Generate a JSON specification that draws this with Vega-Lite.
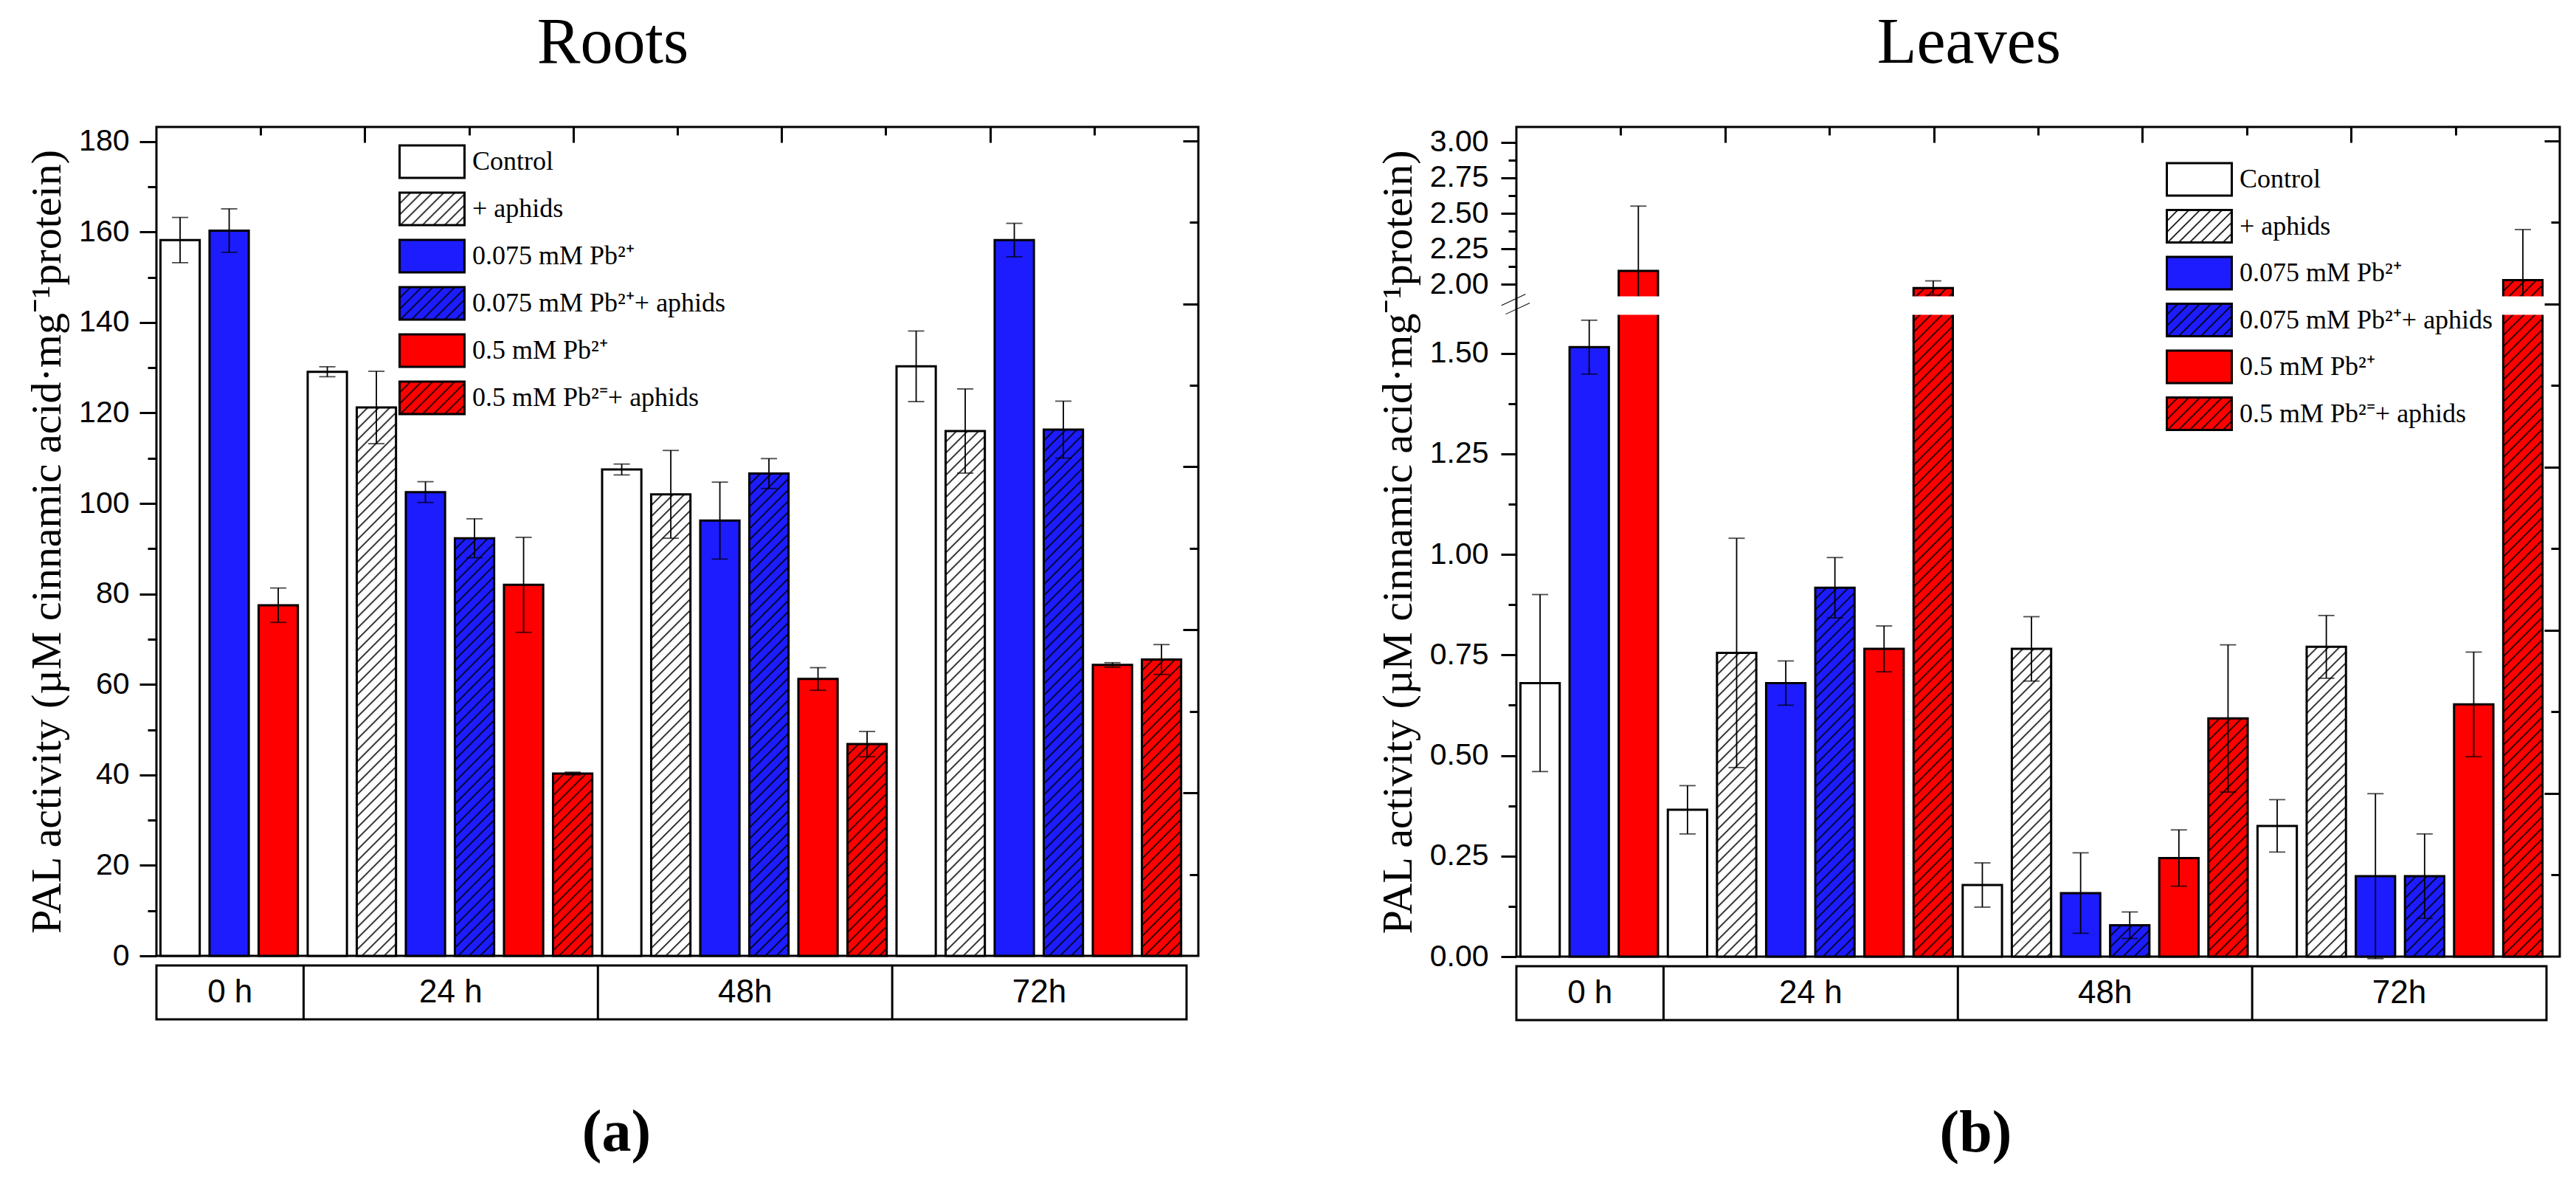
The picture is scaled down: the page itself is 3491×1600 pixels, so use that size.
{
  "$schema": "https://vega.github.io/schema/vega-lite/v6.json",
  "background": "white",
  "padding": {"left": 34, "top": 15, "right": 0, "bottom": 0},
  "params": [
    {"name": "hatch", "value": [
      {"offset":0,"color":"#000"},{"offset":0.0015,"color":"#0000"},{"offset":0.0085,"color":"#0000"},
      {"offset":0.01,"color":"#000"},{"offset":0.0115,"color":"#0000"},{"offset":0.0185,"color":"#0000"},
      {"offset":0.02,"color":"#000"},{"offset":0.0215,"color":"#0000"},{"offset":0.0285,"color":"#0000"},
      {"offset":0.03,"color":"#000"},{"offset":0.0315,"color":"#0000"},{"offset":0.0385,"color":"#0000"},
      {"offset":0.04,"color":"#000"},{"offset":0.0415,"color":"#0000"},{"offset":0.0485,"color":"#0000"},
      {"offset":0.05,"color":"#000"},{"offset":0.0515,"color":"#0000"},{"offset":0.0585,"color":"#0000"},
      {"offset":0.06,"color":"#000"},{"offset":0.0615,"color":"#0000"},{"offset":0.0685,"color":"#0000"},
      {"offset":0.07,"color":"#000"},{"offset":0.0715,"color":"#0000"},{"offset":0.0785,"color":"#0000"},
      {"offset":0.08,"color":"#000"},{"offset":0.0815,"color":"#0000"},{"offset":0.0885,"color":"#0000"},
      {"offset":0.09,"color":"#000"},{"offset":0.0915,"color":"#0000"},{"offset":0.0985,"color":"#0000"},
      {"offset":0.1,"color":"#000"},{"offset":0.1015,"color":"#0000"},{"offset":0.1085,"color":"#0000"},
      {"offset":0.11,"color":"#000"},{"offset":0.1115,"color":"#0000"},{"offset":0.1185,"color":"#0000"},
      {"offset":0.12,"color":"#000"},{"offset":0.1215,"color":"#0000"},{"offset":0.1285,"color":"#0000"},
      {"offset":0.13,"color":"#000"},{"offset":0.1315,"color":"#0000"},{"offset":0.1385,"color":"#0000"},
      {"offset":0.14,"color":"#000"},{"offset":0.1415,"color":"#0000"},{"offset":0.1485,"color":"#0000"},
      {"offset":0.15,"color":"#000"},{"offset":0.1515,"color":"#0000"},{"offset":0.1585,"color":"#0000"},
      {"offset":0.16,"color":"#000"},{"offset":0.1615,"color":"#0000"},{"offset":0.1685,"color":"#0000"},
      {"offset":0.17,"color":"#000"},{"offset":0.1715,"color":"#0000"},{"offset":0.1785,"color":"#0000"},
      {"offset":0.18,"color":"#000"},{"offset":0.1815,"color":"#0000"},{"offset":0.1885,"color":"#0000"},
      {"offset":0.19,"color":"#000"},{"offset":0.1915,"color":"#0000"},{"offset":0.1985,"color":"#0000"},
      {"offset":0.2,"color":"#000"},{"offset":0.2015,"color":"#0000"},{"offset":0.2085,"color":"#0000"},
      {"offset":0.21,"color":"#000"},{"offset":0.2115,"color":"#0000"},{"offset":0.2185,"color":"#0000"},
      {"offset":0.22,"color":"#000"},{"offset":0.2215,"color":"#0000"},{"offset":0.2285,"color":"#0000"},
      {"offset":0.23,"color":"#000"},{"offset":0.2315,"color":"#0000"},{"offset":0.2385,"color":"#0000"},
      {"offset":0.24,"color":"#000"},{"offset":0.2415,"color":"#0000"},{"offset":0.2485,"color":"#0000"},
      {"offset":0.25,"color":"#000"},{"offset":0.2515,"color":"#0000"},{"offset":0.2585,"color":"#0000"},
      {"offset":0.26,"color":"#000"},{"offset":0.2615,"color":"#0000"},{"offset":0.2685,"color":"#0000"},
      {"offset":0.27,"color":"#000"},{"offset":0.2715,"color":"#0000"},{"offset":0.2785,"color":"#0000"},
      {"offset":0.28,"color":"#000"},{"offset":0.2815,"color":"#0000"},{"offset":0.2885,"color":"#0000"},
      {"offset":0.29,"color":"#000"},{"offset":0.2915,"color":"#0000"},{"offset":0.2985,"color":"#0000"},
      {"offset":0.3,"color":"#000"},{"offset":0.3015,"color":"#0000"},{"offset":0.3085,"color":"#0000"},
      {"offset":0.31,"color":"#000"},{"offset":0.3115,"color":"#0000"},{"offset":0.3185,"color":"#0000"},
      {"offset":0.32,"color":"#000"},{"offset":0.3215,"color":"#0000"},{"offset":0.3285,"color":"#0000"},
      {"offset":0.33,"color":"#000"},{"offset":0.3315,"color":"#0000"},{"offset":0.3385,"color":"#0000"},
      {"offset":0.34,"color":"#000"},{"offset":0.3415,"color":"#0000"},{"offset":0.3485,"color":"#0000"},
      {"offset":0.35,"color":"#000"},{"offset":0.3515,"color":"#0000"},{"offset":0.3585,"color":"#0000"},
      {"offset":0.36,"color":"#000"},{"offset":0.3615,"color":"#0000"},{"offset":0.3685,"color":"#0000"},
      {"offset":0.37,"color":"#000"},{"offset":0.3715,"color":"#0000"},{"offset":0.3785,"color":"#0000"},
      {"offset":0.38,"color":"#000"},{"offset":0.3815,"color":"#0000"},{"offset":0.3885,"color":"#0000"},
      {"offset":0.39,"color":"#000"},{"offset":0.3915,"color":"#0000"},{"offset":0.3985,"color":"#0000"},
      {"offset":0.4,"color":"#000"},{"offset":0.4015,"color":"#0000"},{"offset":0.4085,"color":"#0000"},
      {"offset":0.41,"color":"#000"},{"offset":0.4115,"color":"#0000"},{"offset":0.4185,"color":"#0000"},
      {"offset":0.42,"color":"#000"},{"offset":0.4215,"color":"#0000"},{"offset":0.4285,"color":"#0000"},
      {"offset":0.43,"color":"#000"},{"offset":0.4315,"color":"#0000"},{"offset":0.4385,"color":"#0000"},
      {"offset":0.44,"color":"#000"},{"offset":0.4415,"color":"#0000"},{"offset":0.4485,"color":"#0000"},
      {"offset":0.45,"color":"#000"},{"offset":0.4515,"color":"#0000"},{"offset":0.4585,"color":"#0000"},
      {"offset":0.46,"color":"#000"},{"offset":0.4615,"color":"#0000"},{"offset":0.4685,"color":"#0000"},
      {"offset":0.47,"color":"#000"},{"offset":0.4715,"color":"#0000"},{"offset":0.4785,"color":"#0000"},
      {"offset":0.48,"color":"#000"},{"offset":0.4815,"color":"#0000"},{"offset":0.4885,"color":"#0000"},
      {"offset":0.49,"color":"#000"},{"offset":0.4915,"color":"#0000"},{"offset":0.4985,"color":"#0000"},
      {"offset":0.5,"color":"#000"},{"offset":0.5015,"color":"#0000"},{"offset":0.5085,"color":"#0000"},
      {"offset":0.51,"color":"#000"},{"offset":0.5115,"color":"#0000"},{"offset":0.5185,"color":"#0000"},
      {"offset":0.52,"color":"#000"},{"offset":0.5215,"color":"#0000"},{"offset":0.5285,"color":"#0000"},
      {"offset":0.53,"color":"#000"},{"offset":0.5315,"color":"#0000"},{"offset":0.5385,"color":"#0000"},
      {"offset":0.54,"color":"#000"},{"offset":0.5415,"color":"#0000"},{"offset":0.5485,"color":"#0000"},
      {"offset":0.55,"color":"#000"},{"offset":0.5515,"color":"#0000"},{"offset":0.5585,"color":"#0000"},
      {"offset":0.56,"color":"#000"},{"offset":0.5615,"color":"#0000"},{"offset":0.5685,"color":"#0000"},
      {"offset":0.57,"color":"#000"},{"offset":0.5715,"color":"#0000"},{"offset":0.5785,"color":"#0000"},
      {"offset":0.58,"color":"#000"},{"offset":0.5815,"color":"#0000"},{"offset":0.5885,"color":"#0000"},
      {"offset":0.59,"color":"#000"},{"offset":0.5915,"color":"#0000"},{"offset":0.5985,"color":"#0000"},
      {"offset":0.6,"color":"#000"},{"offset":0.6015,"color":"#0000"},{"offset":0.6085,"color":"#0000"},
      {"offset":0.61,"color":"#000"},{"offset":0.6115,"color":"#0000"},{"offset":0.6185,"color":"#0000"},
      {"offset":0.62,"color":"#000"},{"offset":0.6215,"color":"#0000"},{"offset":0.6285,"color":"#0000"},
      {"offset":0.63,"color":"#000"},{"offset":0.6315,"color":"#0000"},{"offset":0.6385,"color":"#0000"},
      {"offset":0.64,"color":"#000"},{"offset":0.6415,"color":"#0000"},{"offset":0.6485,"color":"#0000"},
      {"offset":0.65,"color":"#000"},{"offset":0.6515,"color":"#0000"},{"offset":0.6585,"color":"#0000"},
      {"offset":0.66,"color":"#000"},{"offset":0.6615,"color":"#0000"},{"offset":0.6685,"color":"#0000"}
    ]},
    {"name": "hatchW", "value": [
      {"offset":0,"color":"#000"},{"offset":0.015,"color":"#fff"},{"offset":0.085,"color":"#fff"},
      {"offset":0.1,"color":"#000"},{"offset":0.115,"color":"#fff"},{"offset":0.185,"color":"#fff"},
      {"offset":0.2,"color":"#000"},{"offset":0.215,"color":"#fff"},{"offset":0.285,"color":"#fff"},
      {"offset":0.3,"color":"#000"},{"offset":0.315,"color":"#fff"},{"offset":0.385,"color":"#fff"},
      {"offset":0.4,"color":"#000"},{"offset":0.415,"color":"#fff"},{"offset":0.485,"color":"#fff"},
      {"offset":0.5,"color":"#000"},{"offset":0.515,"color":"#fff"},{"offset":0.585,"color":"#fff"},
      {"offset":0.6,"color":"#000"},{"offset":0.615,"color":"#fff"},{"offset":0.685,"color":"#fff"},
      {"offset":0.7,"color":"#000"},{"offset":0.715,"color":"#fff"},{"offset":0.785,"color":"#fff"},
      {"offset":0.8,"color":"#000"},{"offset":0.815,"color":"#fff"},{"offset":0.885,"color":"#fff"},
      {"offset":0.9,"color":"#000"},{"offset":0.915,"color":"#fff"},{"offset":0.985,"color":"#fff"},
      {"offset":1,"color":"#000"}
    ]},
    {"name": "hatchB", "value": [
      {"offset":0,"color":"#000"},{"offset":0.015,"color":"#1c1cff"},{"offset":0.085,"color":"#1c1cff"},
      {"offset":0.1,"color":"#000"},{"offset":0.115,"color":"#1c1cff"},{"offset":0.185,"color":"#1c1cff"},
      {"offset":0.2,"color":"#000"},{"offset":0.215,"color":"#1c1cff"},{"offset":0.285,"color":"#1c1cff"},
      {"offset":0.3,"color":"#000"},{"offset":0.315,"color":"#1c1cff"},{"offset":0.385,"color":"#1c1cff"},
      {"offset":0.4,"color":"#000"},{"offset":0.415,"color":"#1c1cff"},{"offset":0.485,"color":"#1c1cff"},
      {"offset":0.5,"color":"#000"},{"offset":0.515,"color":"#1c1cff"},{"offset":0.585,"color":"#1c1cff"},
      {"offset":0.6,"color":"#000"},{"offset":0.615,"color":"#1c1cff"},{"offset":0.685,"color":"#1c1cff"},
      {"offset":0.7,"color":"#000"},{"offset":0.715,"color":"#1c1cff"},{"offset":0.785,"color":"#1c1cff"},
      {"offset":0.8,"color":"#000"},{"offset":0.815,"color":"#1c1cff"},{"offset":0.885,"color":"#1c1cff"},
      {"offset":0.9,"color":"#000"},{"offset":0.915,"color":"#1c1cff"},{"offset":0.985,"color":"#1c1cff"},
      {"offset":1,"color":"#000"}
    ]},
    {"name": "hatchR", "value": [
      {"offset":0,"color":"#000"},{"offset":0.015,"color":"#ff0000"},{"offset":0.085,"color":"#ff0000"},
      {"offset":0.1,"color":"#000"},{"offset":0.115,"color":"#ff0000"},{"offset":0.185,"color":"#ff0000"},
      {"offset":0.2,"color":"#000"},{"offset":0.215,"color":"#ff0000"},{"offset":0.285,"color":"#ff0000"},
      {"offset":0.3,"color":"#000"},{"offset":0.315,"color":"#ff0000"},{"offset":0.385,"color":"#ff0000"},
      {"offset":0.4,"color":"#000"},{"offset":0.415,"color":"#ff0000"},{"offset":0.485,"color":"#ff0000"},
      {"offset":0.5,"color":"#000"},{"offset":0.515,"color":"#ff0000"},{"offset":0.585,"color":"#ff0000"},
      {"offset":0.6,"color":"#000"},{"offset":0.615,"color":"#ff0000"},{"offset":0.685,"color":"#ff0000"},
      {"offset":0.7,"color":"#000"},{"offset":0.715,"color":"#ff0000"},{"offset":0.785,"color":"#ff0000"},
      {"offset":0.8,"color":"#000"},{"offset":0.815,"color":"#ff0000"},{"offset":0.885,"color":"#ff0000"},
      {"offset":0.9,"color":"#000"},{"offset":0.915,"color":"#ff0000"},{"offset":0.985,"color":"#ff0000"},
      {"offset":1,"color":"#000"}
    ]}
  ],
  "datasets": {
    "roots": [
      {"time": "0 h", "trt": "Control", "bar": "0 h Control", "v": 158.2, "e": 5.0},
      {"time": "0 h", "trt": "0.075 mM Pb²⁺", "bar": "0 h 0.075 mM Pb²⁺", "v": 160.3, "e": 4.8},
      {"time": "0 h", "trt": "0.5 mM Pb²⁺", "bar": "0 h 0.5 mM Pb²⁺", "v": 77.5, "e": 3.8},
      {"time": "24 h", "trt": "Control", "bar": "24 h Control", "v": 129.1, "e": 1.1},
      {"time": "24 h", "trt": "+ aphids", "bar": "24 h + aphids", "v": 121.2, "e": 8.0},
      {"time": "24 h", "trt": "0.075 mM Pb²⁺", "bar": "24 h 0.075 mM Pb²⁺", "v": 102.5, "e": 2.3},
      {"time": "24 h", "trt": "0.075 mM Pb²⁺+ aphids", "bar": "24 h 0.075 mM Pb²⁺+ aphids", "v": 92.3, "e": 4.3},
      {"time": "24 h", "trt": "0.5 mM Pb²⁺", "bar": "24 h 0.5 mM Pb²⁺", "v": 82.0, "e": 10.5},
      {"time": "24 h", "trt": "0.5 mM Pb²⁼+ aphids", "bar": "24 h 0.5 mM Pb²⁼+ aphids", "v": 40.3, "e": 0.3},
      {"time": "48h", "trt": "Control", "bar": "48h Control", "v": 107.5, "e": 1.2},
      {"time": "48h", "trt": "+ aphids", "bar": "48h + aphids", "v": 102.0, "e": 9.7},
      {"time": "48h", "trt": "0.075 mM Pb²⁺", "bar": "48h 0.075 mM Pb²⁺", "v": 96.2, "e": 8.5},
      {"time": "48h", "trt": "0.075 mM Pb²⁺+ aphids", "bar": "48h 0.075 mM Pb²⁺+ aphids", "v": 106.6, "e": 3.3},
      {"time": "48h", "trt": "0.5 mM Pb²⁺", "bar": "48h 0.5 mM Pb²⁺", "v": 61.2, "e": 2.5},
      {"time": "48h", "trt": "0.5 mM Pb²⁼+ aphids", "bar": "48h 0.5 mM Pb²⁼+ aphids", "v": 46.8, "e": 2.8},
      {"time": "72h", "trt": "Control", "bar": "72h Control", "v": 130.3, "e": 7.8},
      {"time": "72h", "trt": "+ aphids", "bar": "72h + aphids", "v": 116.0, "e": 9.3},
      {"time": "72h", "trt": "0.075 mM Pb²⁺", "bar": "72h 0.075 mM Pb²⁺", "v": 158.2, "e": 3.7},
      {"time": "72h", "trt": "0.075 mM Pb²⁺+ aphids", "bar": "72h 0.075 mM Pb²⁺+ aphids", "v": 116.3, "e": 6.3},
      {"time": "72h", "trt": "0.5 mM Pb²⁺", "bar": "72h 0.5 mM Pb²⁺", "v": 64.3, "e": 0.5},
      {"time": "72h", "trt": "0.5 mM Pb²⁼+ aphids", "bar": "72h 0.5 mM Pb²⁼+ aphids", "v": 65.5, "e": 3.3}
    ],
    "leaves": [
      {"time": "0 h", "trt": "Control", "bar": "0 h Control", "v": 0.68, "e": 0.22},
      {"time": "0 h", "trt": "0.075 mM Pb²⁺", "bar": "0 h 0.075 mM Pb²⁺", "v": 1.515, "e": 0.067},
      {"time": "0 h", "trt": "0.5 mM Pb²⁺", "bar": "0 h 0.5 mM Pb²⁺", "v": 2.095, "e": 0.456},
      {"time": "24 h", "trt": "Control", "bar": "24 h Control", "v": 0.365, "e": 0.06},
      {"time": "24 h", "trt": "+ aphids", "bar": "24 h + aphids", "v": 0.755, "e": 0.285},
      {"time": "24 h", "trt": "0.075 mM Pb²⁺", "bar": "24 h 0.075 mM Pb²⁺", "v": 0.68, "e": 0.055},
      {"time": "24 h", "trt": "0.075 mM Pb²⁺+ aphids", "bar": "24 h 0.075 mM Pb²⁺+ aphids", "v": 0.917, "e": 0.075},
      {"time": "24 h", "trt": "0.5 mM Pb²⁺", "bar": "24 h 0.5 mM Pb²⁺", "v": 0.765, "e": 0.057},
      {"time": "24 h", "trt": "0.5 mM Pb²⁼+ aphids", "bar": "24 h 0.5 mM Pb²⁼+ aphids", "v": 1.975, "e": 0.05},
      {"time": "48h", "trt": "Control", "bar": "48h Control", "v": 0.178, "e": 0.055},
      {"time": "48h", "trt": "+ aphids", "bar": "48h + aphids", "v": 0.765, "e": 0.08},
      {"time": "48h", "trt": "0.075 mM Pb²⁺", "bar": "48h 0.075 mM Pb²⁺", "v": 0.158, "e": 0.1},
      {"time": "48h", "trt": "0.075 mM Pb²⁺+ aphids", "bar": "48h 0.075 mM Pb²⁺+ aphids", "v": 0.078, "e": 0.033},
      {"time": "48h", "trt": "0.5 mM Pb²⁺", "bar": "48h 0.5 mM Pb²⁺", "v": 0.245, "e": 0.07},
      {"time": "48h", "trt": "0.5 mM Pb²⁼+ aphids", "bar": "48h 0.5 mM Pb²⁼+ aphids", "v": 0.592, "e": 0.183},
      {"time": "72h", "trt": "Control", "bar": "72h Control", "v": 0.325, "e": 0.065},
      {"time": "72h", "trt": "+ aphids", "bar": "72h + aphids", "v": 0.77, "e": 0.078},
      {"time": "72h", "trt": "0.075 mM Pb²⁺", "bar": "72h 0.075 mM Pb²⁺", "v": 0.2, "e": 0.205},
      {"time": "72h", "trt": "0.075 mM Pb²⁺+ aphids", "bar": "72h 0.075 mM Pb²⁺+ aphids", "v": 0.2, "e": 0.105},
      {"time": "72h", "trt": "0.5 mM Pb²⁺", "bar": "72h 0.5 mM Pb²⁺", "v": 0.627, "e": 0.13},
      {"time": "72h", "trt": "0.5 mM Pb²⁼+ aphids", "bar": "72h 0.5 mM Pb²⁼+ aphids", "v": 2.03, "e": 0.356}
    ]
  },
  "spacing": 237,
  "hconcat": [
    {
      "data": {"name": "roots"},
      "title": {"text": "Roots", "font": "Liberation Serif", "fontSize": 88, "fontWeight": "normal", "color": "black", "anchor": "middle", "frame": "bounds", "baseline": "alphabetic", "offset": -4},
      "bounds": "flush",
      "spacing": 13,
      "resolve": {"scale": {"fill": "independent"}, "legend": {"fill": "independent"}},
      "vconcat": [
        {
          "width": 1412,
          "height": 1123,
          "resolve": {"scale": {"x": "independent", "y": "independent"}},
          "layer": [
            {
              "layer": [
                {
                  "mark": {"type": "bar", "stroke": "black", "strokeWidth": 3, "fill": {"expr": "indexof(datum.trt,'0.075') >= 0 ? '#1c1cff' : indexof(datum.trt,'0.5') >= 0 ? '#ff0000' : '#ffffff'"}},
                  "encoding": {
                    "x": {"field": "bar", "type": "nominal", "sort": null, "scale": {"paddingInner": 0.2, "paddingOuter": 0.2165, "align": 0.19}, "axis": null},
                    "y": {"field": "v", "type": "quantitative", "scale": {"domain": [0, 183.2], "nice": false}, "axis": null}
                  }
                },
                {
                  "mark": {"type": "bar", "opacity": 0},
                  "encoding": {
                    "x": {"field": "bar", "type": "nominal", "sort": null, "axis": null},
                    "y": {"field": "v", "type": "quantitative", "scale": {"domain": [0, 183.2], "nice": false}, "axis": null},
                    "fill": {"field": "trt", "type": "nominal",
                      "scale": {"domain": ["Control", "+ aphids", "0.075 mM Pb²⁺", "0.075 mM Pb²⁺+ aphids", "0.5 mM Pb²⁺", "0.5 mM Pb²⁼+ aphids"],
                        "range": ["#ffffff", {"expr": "{gradient: 'linear', x1: 0, y1: 0, x2: 1.3636, y2: 0.6818, stops: hatchW}"}, "#1c1cff", {"expr": "{gradient: 'linear', x1: 0, y1: 0, x2: 1.3636, y2: 0.6818, stops: hatchB}"}, "#ff0000", {"expr": "{gradient: 'linear', x1: 0, y1: 0, x2: 1.3636, y2: 0.6818, stops: hatchR}"}]},
                      "legend": {"orient": "none", "legendX": 350, "legendY": 23.5, "title": null, "padding": 0,
                        "symbolType": "M-2,-1H2V1H-2Z", "symbolSize": 1936, "symbolStrokeColor": "black", "symbolStrokeWidth": 3, "symbolOpacity": 1,
                        "labelFont": "Liberation Serif", "labelFontSize": 36, "labelColor": "black", "labelOffset": 31, "labelLimit": 2000, "rowPadding": 7}
                    }
                  }
                },
                {
                  "mark": {"type": "bar", "fill": {"expr": "indexof(datum.trt,'aphids') < 0 ? 'transparent' : {gradient: 'linear', x1: 0, y1: 0, x2: 79800/(2830+pow(datum.v*6.13,2)), y2: 9195*datum.v/(2830+pow(datum.v*6.13,2)), stops: hatch}"}},
                  "encoding": {
                    "x": {"field": "bar", "type": "nominal", "sort": null, "axis": null},
                    "y": {"field": "v", "type": "quantitative", "scale": {"domain": [0, 183.2], "nice": false}, "axis": null}
                  }
                },
                {
                  "mark": {"type": "errorbar", "color": "black", "ticks": {"size": 22, "thickness": 1.8, "color": "black"}, "rule": {"strokeWidth": 1.8, "color": "black"}},
                  "encoding": {
                    "x": {"field": "bar", "type": "nominal", "sort": null, "axis": null},
                    "y": {"field": "v", "type": "quantitative", "scale": {"domain": [0, 183.2], "nice": false}, "axis": null},
                    "yError": {"field": "e"}
                  }
                }
              ]
            },
            {
              "mark": {"type": "point", "opacity": 0},
              "encoding": {
                "x": {"datum": 0, "type": "quantitative", "scale": {"domain": [0, 1]}, "axis": null},
                "y": {"datum": 0, "type": "quantitative", "scale": {"domain": [0, 183.2], "nice": false},
                  "axis": {"orient": "left", "values": [0, 20, 40, 60, 80, 100, 120, 140, 160, 180], "tickSize": 23, "labelFontSize": 41, "labelPadding": 14, "domain": false,
                    "title": "PAL activity (µM cinnamic acid·mg⁻¹protein)", "titleFontSize": 58, "titlePadding": 13}}
              }
            },
            {
              "mark": {"type": "point", "opacity": 0},
              "encoding": {
                "x": {"datum": 0, "type": "quantitative", "scale": {"domain": [0, 1]}, "axis": null},
                "y": {"datum": 0, "type": "quantitative", "scale": {"domain": [0, 183.2], "nice": false},
                  "axis": {"orient": "left", "values": [10, 30, 50, 70, 90, 110, 130, 150, 170], "tickSize": 12, "labels": false, "domain": false, "title": null}}
              }
            },
            {
              "mark": {"type": "point", "opacity": 0},
              "encoding": {
                "x": {"datum": 0, "type": "quantitative", "scale": {"domain": [0, 10], "nice": false},
                  "axis": {"orient": "top", "values": [2, 4, 6, 8], "tickSize": 21, "offset": -21, "labels": false, "domain": false, "title": null}},
                "y": {"datum": 0, "type": "quantitative", "scale": {"domain": [0, 10.17], "nice": false},
                  "axis": {"orient": "right", "values": [2, 4, 6, 8, 10], "tickSize": 21, "offset": -21, "labels": false, "domain": false, "title": null}}
              }
            },
            {
              "mark": {"type": "point", "opacity": 0},
              "encoding": {
                "x": {"datum": 0, "type": "quantitative", "scale": {"domain": [0, 10], "nice": false},
                  "axis": {"orient": "top", "values": [1, 3, 5, 7, 9], "tickSize": 11, "offset": -11, "labels": false, "domain": false, "title": null}},
                "y": {"datum": 0, "type": "quantitative", "scale": {"domain": [0, 10.17], "nice": false},
                  "axis": {"orient": "right", "values": [1, 3, 5, 7, 9], "tickSize": 12, "offset": -12, "labels": false, "domain": false, "title": null}}
              }
            }
          ]
        },
        {
          "width": 1396,
          "height": 73,
          "layer": [
            {
              "mark": {"type": "rule", "color": "black", "strokeWidth": 3, "strokeOpacity": {"expr": "datum.trt == 'Control' && datum.time != '0 h' ? 1 : 0"}},
              "encoding": {"x": {"field": "bar", "type": "nominal", "sort": null, "bandPosition": 0, "scale": {"type": "band", "paddingInner": 0, "paddingOuter": 0},
                "axis": {"title": "(a)", "labels": false, "ticks": false, "domain": false, "titleX": 623, "titleY": 177, "titleFont": "Liberation Serif", "titleFontSize": 80, "titleFontWeight": "bold", "titleBaseline": "alphabetic", "titleAlign": "center"}}}
            },
            {
              "mark": {"type": "text", "font": "Liberation Sans", "fontSize": 44, "color": "black", "baseline": "middle", "opacity": {"expr": "datum.time == '0 h' && datum.trt == '0.075 mM Pb²⁺' ? 1 : 0"}},
              "encoding": {"x": {"field": "bar", "type": "nominal", "sort": null, "bandPosition": 0.5, "scale": {"type": "band", "paddingInner": 0, "paddingOuter": 0},
                "axis": {"title": "(a)", "labels": false, "ticks": false, "domain": false, "titleX": 623, "titleY": 177, "titleFont": "Liberation Serif", "titleFontSize": 80, "titleFontWeight": "bold", "titleBaseline": "alphabetic", "titleAlign": "center"}}, "text": {"field": "time"}}
            },
            {
              "mark": {"type": "text", "font": "Liberation Sans", "fontSize": 44, "color": "black", "baseline": "middle", "opacity": {"expr": "datum.time != '0 h' && datum.trt == '0.075 mM Pb²⁺+ aphids' ? 1 : 0"}},
              "encoding": {"x": {"field": "bar", "type": "nominal", "sort": null, "bandPosition": 0, "scale": {"type": "band", "paddingInner": 0, "paddingOuter": 0},
                "axis": {"title": "(a)", "labels": false, "ticks": false, "domain": false, "titleX": 623, "titleY": 177, "titleFont": "Liberation Serif", "titleFontSize": 80, "titleFontWeight": "bold", "titleBaseline": "alphabetic", "titleAlign": "center"}}, "text": {"field": "time"}}
            }
          ]
        }
      ]
    },
    {
      "data": {"name": "leaves"},
      "title": {"text": "Leaves", "font": "Liberation Serif", "fontSize": 88, "fontWeight": "normal", "color": "black", "anchor": "middle", "frame": "bounds", "baseline": "alphabetic", "offset": -4},
      "bounds": "flush",
      "spacing": 13,
      "resolve": {"scale": {"fill": "independent"}, "legend": {"fill": "independent"}},
      "vconcat": [
        {
          "width": 1414,
          "height": 1124,
          "resolve": {"scale": {"x": "independent", "y": "independent"}},
          "layer": [
            {
              "layer": [
                {
                  "mark": {"type": "bar", "stroke": "black", "strokeWidth": 3, "fill": {"expr": "indexof(datum.trt,'0.075') >= 0 ? '#1c1cff' : indexof(datum.trt,'0.5') >= 0 ? '#ff0000' : '#ffffff'"}},
                  "encoding": {
                    "x": {"field": "bar", "type": "nominal", "sort": null, "scale": {"paddingInner": 0.2, "paddingOuter": 0.2165, "align": 0.19}, "axis": null},
                    "y": {"field": "v", "type": "quantitative", "scale": {"domain": [0, 1.6, 1.903, 3.108], "range": [1124, 252, 232, 0], "nice": false}, "axis": null}
                  }
                },
                {
                  "mark": {"type": "bar", "opacity": 0},
                  "encoding": {
                    "x": {"field": "bar", "type": "nominal", "sort": null, "axis": null},
                    "y": {"field": "v", "type": "quantitative", "scale": {"domain": [0, 1.6, 1.903, 3.108], "range": [1124, 252, 232, 0], "nice": false}, "axis": null},
                    "fill": {"field": "trt", "type": "nominal",
                      "scale": {"domain": ["Control", "+ aphids", "0.075 mM Pb²⁺", "0.075 mM Pb²⁺+ aphids", "0.5 mM Pb²⁺", "0.5 mM Pb²⁼+ aphids"],
                        "range": ["#ffffff", {"expr": "{gradient: 'linear', x1: 0, y1: 0, x2: 1.3636, y2: 0.6818, stops: hatchW}"}, "#1c1cff", {"expr": "{gradient: 'linear', x1: 0, y1: 0, x2: 1.3636, y2: 0.6818, stops: hatchB}"}, "#ff0000", {"expr": "{gradient: 'linear', x1: 0, y1: 0, x2: 1.3636, y2: 0.6818, stops: hatchR}"}]},
                      "legend": {"orient": "none", "legendX": 902, "legendY": 47.5, "title": null, "padding": 0,
                        "symbolType": "M-2,-1H2V1H-2Z", "symbolSize": 1936, "symbolStrokeColor": "black", "symbolStrokeWidth": 3, "symbolOpacity": 1,
                        "labelFont": "Liberation Serif", "labelFontSize": 36, "labelColor": "black", "labelOffset": 31, "labelLimit": 2000, "rowPadding": 6.5}
                    }
                  }
                },
                {
                  "mark": {"type": "bar", "fill": {"expr": "indexof(datum.trt,'aphids') < 0 ? 'transparent' : {gradient: 'linear', x1: 0, y1: 0, x2: 79950/(2841+pow((datum.v<=1.6?datum.v*545:datum.v<=1.903?872+(datum.v-1.6)*66:892+(datum.v-1.903)*192.5),2)), y2: 1500*(datum.v<=1.6?datum.v*545:datum.v<=1.903?872+(datum.v-1.6)*66:892+(datum.v-1.903)*192.5)/(2841+pow((datum.v<=1.6?datum.v*545:datum.v<=1.903?872+(datum.v-1.6)*66:892+(datum.v-1.903)*192.5),2)), stops: hatch}"}},
                  "encoding": {
                    "x": {"field": "bar", "type": "nominal", "sort": null, "axis": null},
                    "y": {"field": "v", "type": "quantitative", "scale": {"domain": [0, 1.6, 1.903, 3.108], "range": [1124, 252, 232, 0], "nice": false}, "axis": null}
                  }
                },
                {
                  "mark": {"type": "errorbar", "color": "black", "ticks": {"size": 22, "thickness": 1.8, "color": "black"}, "rule": {"strokeWidth": 1.8, "color": "black"}},
                  "encoding": {
                    "x": {"field": "bar", "type": "nominal", "sort": null, "axis": null},
                    "y": {"field": "v", "type": "quantitative", "scale": {"domain": [0, 1.6, 1.903, 3.108], "range": [1124, 252, 232, 0], "nice": false}, "axis": null},
                    "yError": {"field": "e"}
                  }
                },
                {
                  "mark": {"type": "bar", "strokeWidth": 5, "fill": {"expr": "datum.v > 1.6 ? 'white' : 'transparent'"}, "stroke": {"expr": "datum.v > 1.6 ? 'white' : 'transparent'"}},
                  "encoding": {
                    "x": {"field": "bar", "type": "nominal", "sort": null, "axis": null},
                    "y": {"datum": 1.6, "type": "quantitative", "scale": {"domain": [0, 1.6, 1.903, 3.108], "range": [1124, 252, 232, 0], "nice": false}, "axis": null},
                    "y2": {"datum": 1.903}
                  }
                }
              ]
            },
            {
              "mark": {"type": "point", "opacity": 0},
              "encoding": {
                "x": {"datum": 0, "type": "quantitative", "scale": {"domain": [0, 1]}, "axis": null},
                "y": {"datum": 0, "type": "quantitative", "scale": {"domain": [0, 1.6, 1.903, 3.108], "range": [1124, 252, 232, 0], "nice": false},
                  "axis": {"orient": "left", "values": [0, 0.25, 0.5, 0.75, 1, 1.25, 1.5, 2, 2.25, 2.5, 2.75, 3], "format": ".2f", "tickSize": 21, "labelFontSize": 41, "labelPadding": 17, "domain": false,
                    "title": "PAL activity (µM cinnamic acid·mg⁻¹protein)", "titleFontSize": 58, "titlePadding": 13}}
              }
            },
            {
              "mark": {"type": "point", "opacity": 0},
              "encoding": {
                "x": {"datum": 0, "type": "quantitative", "scale": {"domain": [0, 1]}, "axis": null},
                "y": {"datum": 0, "type": "quantitative", "scale": {"domain": [0, 1.6, 1.903, 3.108], "range": [1124, 252, 232, 0], "nice": false},
                  "axis": {"orient": "left", "values": [0.125, 0.375, 0.625, 0.875, 1.125, 1.375, 2.125, 2.375, 2.625, 2.875], "tickSize": 11, "labels": false, "domain": false, "title": null}}
              }
            },
            {
              "mark": {"type": "point", "opacity": 0},
              "encoding": {
                "x": {"datum": 0, "type": "quantitative", "scale": {"domain": [0, 1]}, "axis": null},
                "y": {"datum": 0, "type": "quantitative", "scale": {"domain": [0, 1.6, 1.903, 3.108], "range": [1124, 252, 232, 0], "nice": false},
                  "axis": {"orient": "left", "values": [1.74], "labelExpr": "'='", "ticks": false, "tickSize": 0, "domain": false, "labelPadding": 0, "labelAlign": "center", "labelBaseline": "middle", "labelAngle": -25,
                    "labelFont": "Lato", "labelFontWeight": 100, "labelFontSize": 90, "labelFlush": false, "labelOverlap": false, "labelBound": false, "title": null, "zindex": 2}}
              }
            },
            {
              "mark": {"type": "point", "opacity": 0},
              "encoding": {
                "x": {"datum": 0, "type": "quantitative", "scale": {"domain": [0, 10], "nice": false},
                  "axis": {"orient": "top", "values": [2, 4, 6, 8], "tickSize": 21, "offset": -21, "labels": false, "domain": false, "title": null}},
                "y": {"datum": 0, "type": "quantitative", "scale": {"domain": [0, 10.17], "nice": false},
                  "axis": {"orient": "right", "values": [2, 4, 6, 8, 10], "tickSize": 21, "offset": -21, "labels": false, "domain": false, "title": null}}
              }
            },
            {
              "mark": {"type": "point", "opacity": 0},
              "encoding": {
                "x": {"datum": 0, "type": "quantitative", "scale": {"domain": [0, 10], "nice": false},
                  "axis": {"orient": "top", "values": [1, 3, 5, 7, 9], "tickSize": 11, "offset": -11, "labels": false, "domain": false, "title": null}},
                "y": {"datum": 0, "type": "quantitative", "scale": {"domain": [0, 10.17], "nice": false},
                  "axis": {"orient": "right", "values": [1, 3, 5, 7, 9], "tickSize": 12, "offset": -12, "labels": false, "domain": false, "title": null}}
              }
            }
          ]
        },
        {
          "width": 1396,
          "height": 73,
          "layer": [
            {
              "mark": {"type": "rule", "color": "black", "strokeWidth": 3, "strokeOpacity": {"expr": "datum.trt == 'Control' && datum.time != '0 h' ? 1 : 0"}},
              "encoding": {"x": {"field": "bar", "type": "nominal", "sort": null, "bandPosition": 0, "scale": {"type": "band", "paddingInner": 0, "paddingOuter": 0},
                "axis": {"title": "(b)", "labels": false, "ticks": false, "domain": false, "titleX": 622, "titleY": 177, "titleFont": "Liberation Serif", "titleFontSize": 80, "titleFontWeight": "bold", "titleBaseline": "alphabetic", "titleAlign": "center"}}}
            },
            {
              "mark": {"type": "text", "font": "Liberation Sans", "fontSize": 44, "color": "black", "baseline": "middle", "opacity": {"expr": "datum.time == '0 h' && datum.trt == '0.075 mM Pb²⁺' ? 1 : 0"}},
              "encoding": {"x": {"field": "bar", "type": "nominal", "sort": null, "bandPosition": 0.5, "scale": {"type": "band", "paddingInner": 0, "paddingOuter": 0},
                "axis": {"title": "(b)", "labels": false, "ticks": false, "domain": false, "titleX": 622, "titleY": 177, "titleFont": "Liberation Serif", "titleFontSize": 80, "titleFontWeight": "bold", "titleBaseline": "alphabetic", "titleAlign": "center"}}, "text": {"field": "time"}}
            },
            {
              "mark": {"type": "text", "font": "Liberation Sans", "fontSize": 44, "color": "black", "baseline": "middle", "opacity": {"expr": "datum.time != '0 h' && datum.trt == '0.075 mM Pb²⁺+ aphids' ? 1 : 0"}},
              "encoding": {"x": {"field": "bar", "type": "nominal", "sort": null, "bandPosition": 0, "scale": {"type": "band", "paddingInner": 0, "paddingOuter": 0},
                "axis": {"title": "(b)", "labels": false, "ticks": false, "domain": false, "titleX": 622, "titleY": 177, "titleFont": "Liberation Serif", "titleFontSize": 80, "titleFontWeight": "bold", "titleBaseline": "alphabetic", "titleAlign": "center"}}, "text": {"field": "time"}}
            }
          ]
        }
      ]
    }
  ],
  "config": {
    "view": {"stroke": "black", "strokeWidth": 3},
    "axis": {"grid": false, "domainColor": "black", "domainWidth": 3, "tickColor": "black", "tickWidth": 3, "labelColor": "black", "titleColor": "black",
      "labelFont": "Liberation Sans", "titleFont": "Liberation Serif", "titleFontWeight": "normal"}
  }
}
